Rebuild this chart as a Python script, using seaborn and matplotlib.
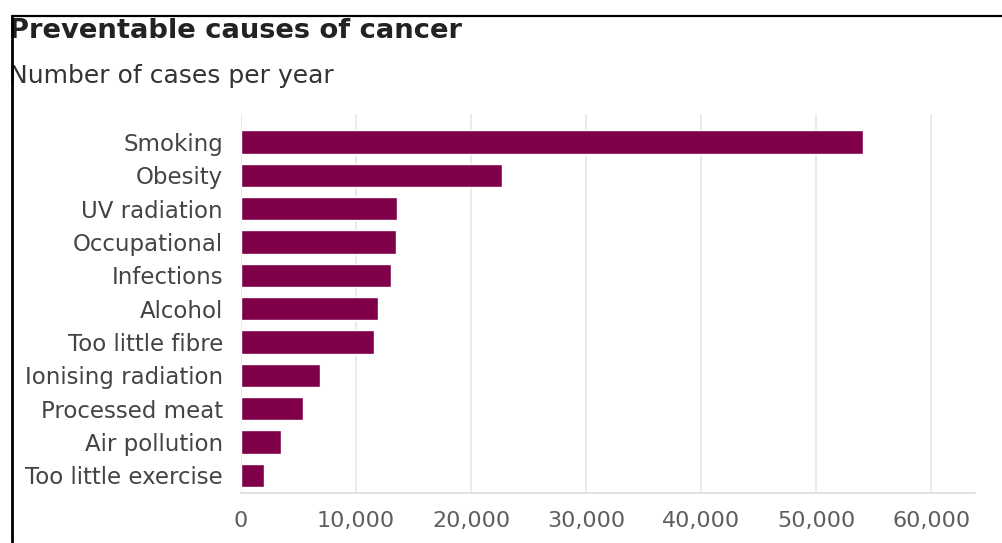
import matplotlib
matplotlib.use("Agg")
import matplotlib.pyplot as plt
import seaborn as sns
import pandas as pd
from matplotlib.patches import Rectangle
from matplotlib.lines import Line2D
from matplotlib.ticker import FuncFormatter

causes = ["Smoking", "Obesity", "UV radiation", "Occupational", "Infections",
          "Alcohol", "Too little fibre", "Ionising radiation", "Processed meat",
          "Air pollution", "Too little exercise"]
cases = [54100, 22700, 13600, 13500, 13000, 11900, 11600, 6900, 5400, 3500, 2000]
x_ticks = [0, 10000, 20000, 30000, 40000, 50000, 60000]

title = "Preventable causes of cancer"
subtitle = "Number of cases per year"

df = pd.DataFrame({"cause": causes, "cases": cases})

sns.set_theme(style="white")
plt.rcParams["font.family"] = ["DejaVu Sans"]

W, H = 1002, 543
fig = plt.figure(figsize=(W / 100, H / 100), dpi=100)
ax = fig.add_axes([241 / W, 1 - 493 / H, (975 - 241) / W, (493 - 114) / H])

sns.barplot(data=df, x="cases", y="cause", orient="h", color="#7f0048",
            saturation=1, width=0.7, ax=ax, zorder=3)

ax.set_xlim(0, 63800)
ax.set_ylim(10.53, -0.84)
ax.set_xticks(x_ticks)
ax.xaxis.set_major_formatter(FuncFormatter(lambda v, p: f"{int(v):,}"))
ax.grid(axis="x", color="#e6e6e6", linewidth=1.1, zorder=0)
ax.set_axisbelow(True)
ax.set_xlabel("")
ax.set_ylabel("")
for s in ["top", "right", "left"]:
    ax.spines[s].set_visible(False)
ax.spines["bottom"].set_color("#dddddd")
ax.spines["bottom"].set_linewidth(1.2)
ax.tick_params(axis="y", length=0, pad=13, labelsize=16.5, labelcolor="#444444")
ax.tick_params(axis="x", length=0, pad=13, labelsize=16, labelcolor="#5e5e5e")

fig.text(9 / W, 1 - 38 / H, title, fontsize=19.7, fontweight="bold",
         color="#222222", va="baseline", ha="left")
fig.text(9 / W, 1 - 83 / H, subtitle, fontsize=18,
         color="#333333", va="baseline", ha="left")

# white margin outside the frame, then the black frame lines
fig.add_artist(Rectangle((0, 0), 11 / W, 1, transform=fig.transFigure,
                         facecolor="white", edgecolor="none", zorder=20))
fig.add_artist(Rectangle((0, 1 - 15 / H), 1, 15 / H, transform=fig.transFigure,
                         facecolor="white", edgecolor="none", zorder=20))
fig.add_artist(Line2D([12 / W, 1], [1 - 16 / H, 1 - 16 / H], transform=fig.transFigure,
                      color="black", linewidth=1.6, zorder=21))
fig.add_artist(Line2D([12 / W, 12 / W], [1 - 16 / H, 1 - 542 / H], transform=fig.transFigure,
                      color="black", linewidth=2.0, zorder=21))

fig.savefig("out.png", dpi=100)
